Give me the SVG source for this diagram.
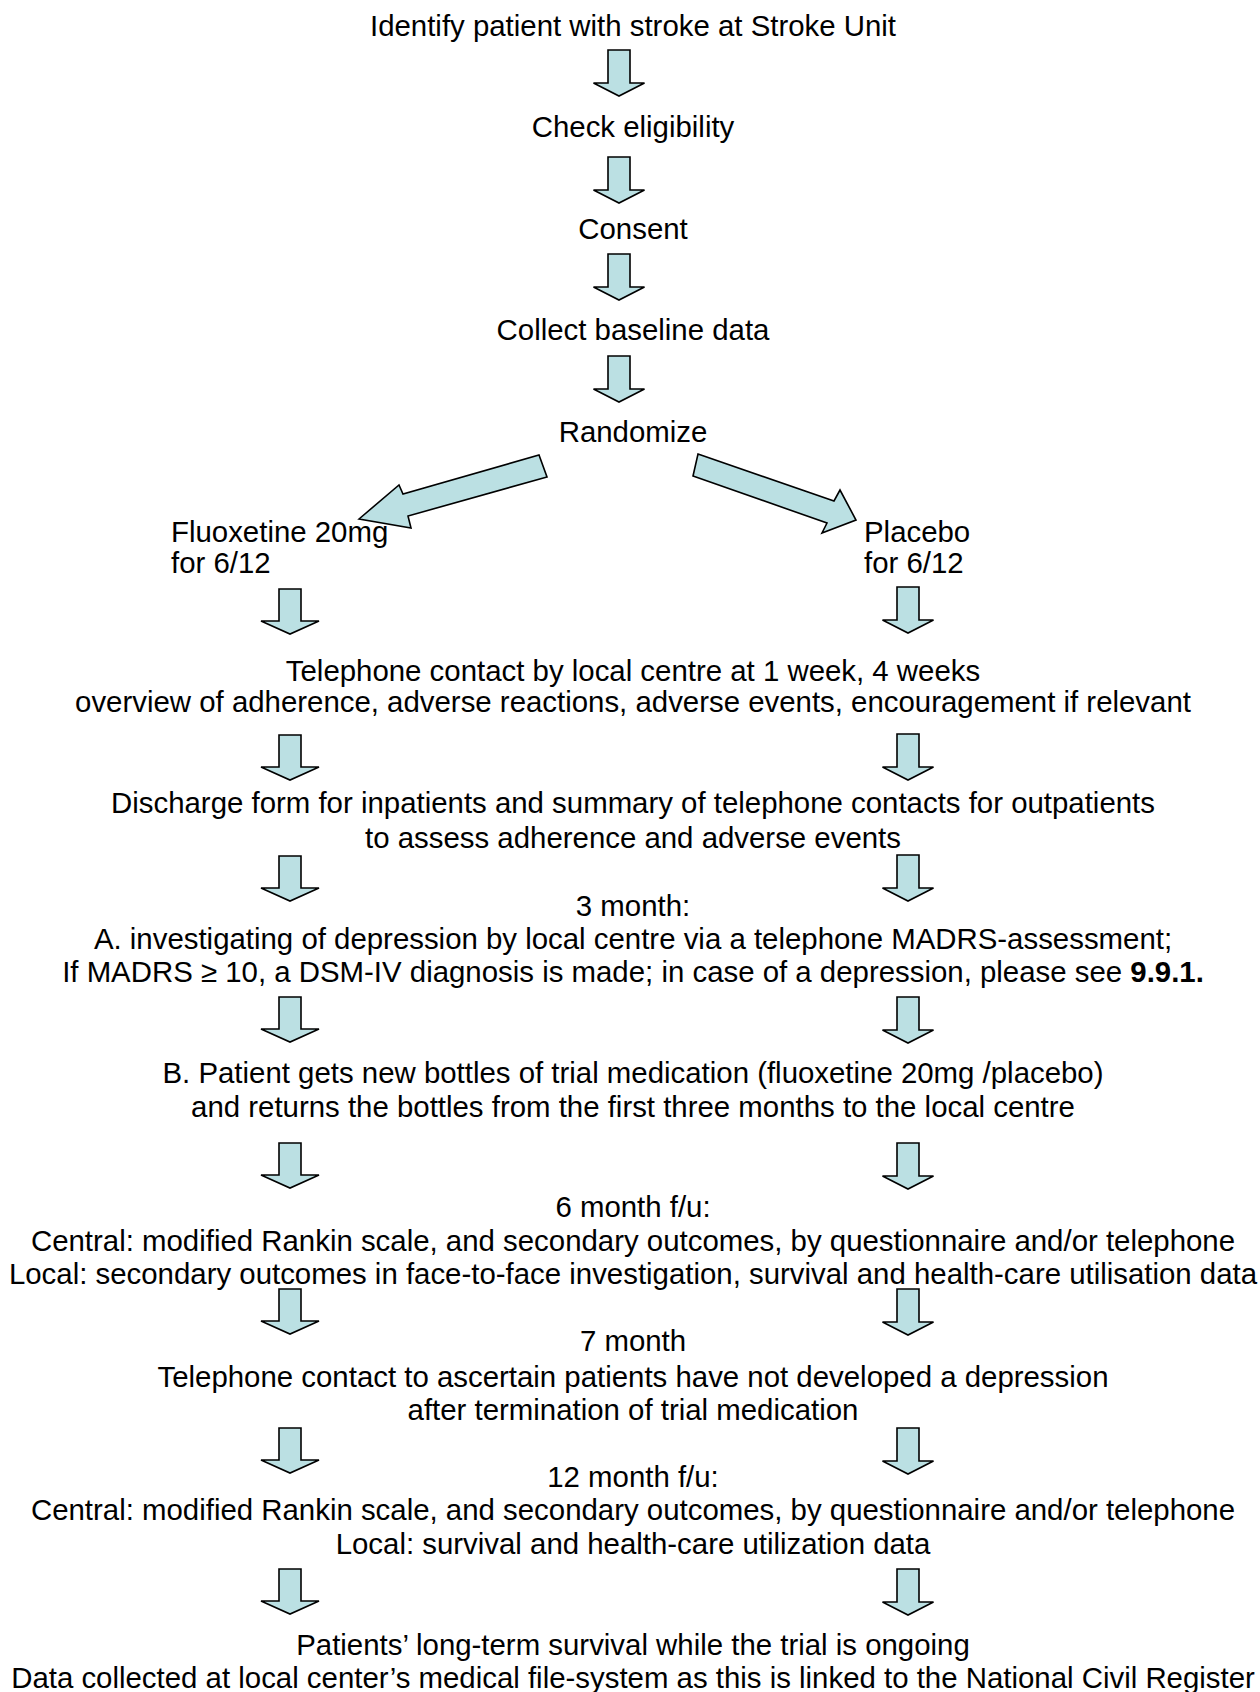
<svg xmlns="http://www.w3.org/2000/svg" xmlns:xlink="http://www.w3.org/1999/xlink" width="1260" height="1692" viewBox="0 0 1260 1692">
<style>
text{font-family:"Liberation Sans",Arial,sans-serif;font-size:29.4px;fill:#000}
.c{text-anchor:middle}
.arr{fill:#BBE0E3;stroke:#000;stroke-width:1.6;stroke-linejoin:miter}
</style>
<defs>
<path id="dn" class="arr" d="M-11,0 H11 V33 H25.5 L0,46 L-25.5,33 H-11 Z"/>
<path id="dnL" class="arr" d="M-11,0 H11 V32 H29 L0,45 L-29,32 H-11 Z"/>
</defs>
<rect width="1260" height="1692" fill="#fff"/>
<g id="n1"><text class="c" x="633" y="36">Identify patient with stroke at Stroke Unit</text></g>
<g id="n2"><text class="c" x="633" y="137">Check eligibility</text></g>
<g id="n3"><text class="c" x="633" y="239">Consent</text></g>
<g id="n4"><text class="c" x="633" y="340">Collect baseline data</text></g>
<g id="n5"><text class="c" x="633" y="442">Randomize</text></g>
<g id="n6"><text x="171" y="542">Fluoxetine 20mg</text><text x="171" y="573">for 6/12</text></g>
<g id="n7"><text x="864" y="542">Placebo</text><text x="864" y="573">for 6/12</text></g>
<g id="n8"><text class="c" x="633" y="681">Telephone contact by local centre at 1 week, 4 weeks</text><text class="c" x="633" y="712">overview of adherence, adverse reactions, adverse events, encouragement if relevant</text></g>
<g id="n9"><text class="c" x="633" y="813">Discharge form for inpatients and summary of telephone contacts for outpatients</text><text class="c" x="633" y="848">to assess adherence and adverse events</text></g>
<g id="n10"><text class="c" x="633" y="916">3 month:</text><text class="c" x="633" y="949">A. investigating of depression by local centre via a telephone MADRS-assessment;</text><text class="c" x="633" y="982">If MADRS ≥ 10, a DSM-IV diagnosis is made; in case of a depression, please see <tspan font-weight="bold">9.9.1.</tspan></text></g>
<g id="n11"><text class="c" x="633" y="1083">B. Patient gets new bottles of trial medication (fluoxetine 20mg /placebo)</text><text class="c" x="633" y="1117">and returns the bottles from the first three months to the local centre</text></g>
<g id="n12"><text class="c" x="633" y="1217">6 month f/u:</text><text class="c" x="633" y="1251">Central: modified Rankin scale, and secondary outcomes, by questionnaire and/or telephone</text><text class="c" x="633" y="1284">Local: secondary outcomes in face-to-face investigation, survival and health-care utilisation data</text></g>
<g id="n13"><text class="c" x="633" y="1351">7 month</text><text class="c" x="633" y="1387">Telephone contact to ascertain patients have not developed a depression</text><text class="c" x="633" y="1420">after termination of trial medication</text></g>
<g id="n14"><text class="c" x="633" y="1487">12 month f/u:</text><text class="c" x="633" y="1520">Central: modified Rankin scale, and secondary outcomes, by questionnaire and/or telephone</text><text class="c" x="633" y="1554">Local: survival and health-care utilization data</text></g>
<g id="n15"><text class="c" x="633" y="1655">Patients’ long-term survival while the trial is ongoing</text><text class="c" x="633" y="1688">Data collected at local center’s medical file-system as this is linked to the National Civil Register</text></g>
<g id="connectors">
<use xlink:href="#dn" x="619" y="50"/>
<use xlink:href="#dn" x="619" y="157"/>
<use xlink:href="#dn" x="619" y="254"/>
<use xlink:href="#dn" x="619" y="356"/>
<polygon class="arr" points="359,519 399,485 403,494 539,455 547,477 408,516 411,528"/>
<polygon class="arr" points="698,454 834,501 840,490 856,520 822,533 827,523 693,476"/>
<use xlink:href="#dnL" x="290" y="589"/>
<use xlink:href="#dnL" x="290" y="735"/>
<use xlink:href="#dnL" x="290" y="856"/>
<use xlink:href="#dnL" x="290" y="997"/>
<use xlink:href="#dnL" x="290" y="1143"/>
<use xlink:href="#dnL" x="290" y="1289"/>
<use xlink:href="#dnL" x="290" y="1428"/>
<use xlink:href="#dnL" x="290" y="1569"/>
<use xlink:href="#dn" x="908" y="587"/>
<use xlink:href="#dn" x="908" y="734"/>
<use xlink:href="#dn" x="908" y="855"/>
<use xlink:href="#dn" x="908" y="997"/>
<use xlink:href="#dn" x="908" y="1143"/>
<use xlink:href="#dn" x="908" y="1289"/>
<use xlink:href="#dn" x="908" y="1428"/>
<use xlink:href="#dn" x="908" y="1569"/>
</g>
</svg>
